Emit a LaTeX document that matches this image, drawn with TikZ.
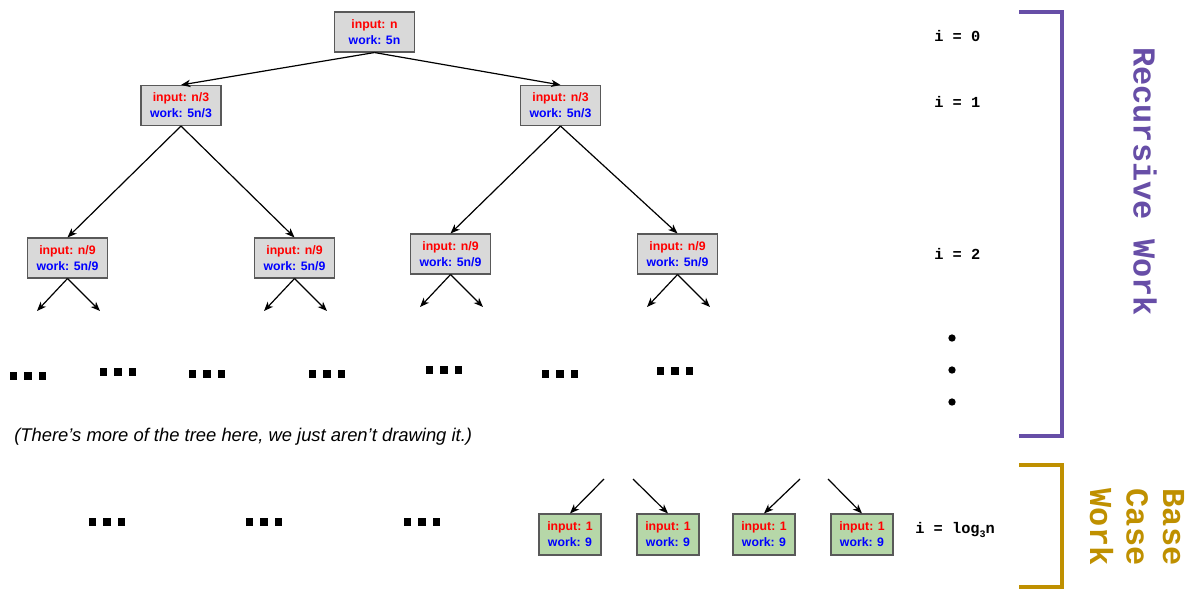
\documentclass[tikz,border=0pt]{standalone}
\usepackage{fontspec}
\setmainfont{Liberation Sans}
\newfontfamily\monof{Liberation Mono}
\usetikzlibrary{arrows.meta}
\definecolor{purp}{HTML}{674EA7}
\definecolor{gold}{HTML}{BF9000}
\definecolor{boxgrey}{HTML}{D9D9D9}
\definecolor{boxgreen}{HTML}{B6D7A8}
\definecolor{edgegrey}{HTML}{595959}
\newcommand\nd[2]{\textcolor{red}{input: #1}\\\textcolor{blue}{work: #2}}
\newcommand\sqdots{\rule{5.5pt}{5.5pt}\hspace{5.5pt}\rule{5.5pt}{5.5pt}\hspace{5.5pt}\rule{5.5pt}{5.5pt}}
\begin{document}
\begin{tikzpicture}[x=0.75pt,y=-0.75pt,
  tbox/.style={draw=edgegrey, line width=0.8pt, fill=boxgrey, minimum width=60pt, minimum height=30pt, inner sep=0pt, align=center, font=\fontsize{9.2}{12}\selectfont\bfseries},
  gbox/.style={tbox, fill=boxgreen, minimum width=46.5pt, minimum height=30.75pt},
  arr/.style={-{Stealth[length=7pt,width=5.5pt,inset=2pt]}, line width=0.9pt},
  dotrow/.style={inner sep=0pt},
  lvl/.style={anchor=west, inner sep=0pt, font=\monof\bfseries\fontsize{11.5}{14}\selectfont},
  vdot/.style={circle, fill=black, inner sep=0pt, minimum size=5.5pt}
]
\useasboundingbox (0,0) rectangle (1195,590);
% tree nodes
\node[tbox] (r) at (374.5,32) {\nd{n}{5n}};
\node[tbox] (a) at (181,105.5) {\nd{n/3}{5n/3}};
\node[tbox] (b) at (560.5,105.5) {\nd{n/3}{5n/3}};
\node[tbox] (a1) at (67.5,258) {\nd{n/9}{5n/9}};
\node[tbox] (a2) at (294.5,258) {\nd{n/9}{5n/9}};
\node[tbox] (b1) at (450.5,254) {\nd{n/9}{5n/9}};
\node[tbox] (b2) at (677.5,254) {\nd{n/9}{5n/9}};
\draw[arr] (r.south) -- (a.north);
\draw[arr] (r.south) -- (b.north);
\draw[arr] (a.south) -- (a1.north);
\draw[arr] (a.south) -- (a2.north);
\draw[arr] (b.south) -- (b1.north);
\draw[arr] (b.south) -- (b2.north);
% short stubs
\coordinate (a1l) at (37,311); \coordinate (a1r) at (100,311);
\coordinate (a2l) at (264,311); \coordinate (a2r) at (327,311);
\coordinate (b1l) at (420,307); \coordinate (b1r) at (483,307);
\coordinate (b2l) at (647,307); \coordinate (b2r) at (710,307);
\foreach \n in {a1,a2,b1,b2}{
  \draw[arr] (\n.south) -- (\n l);
  \draw[arr] (\n.south) -- (\n r);
}
% dot rows
\node[dotrow] (d1) at (28,376) {\sqdots};
\node[dotrow] (d2) at (118,372) {\sqdots};
\node[dotrow] (d3) at (207,374) {\sqdots};
\node[dotrow] (d4) at (327,374) {\sqdots};
\node[dotrow] (d5) at (444,370) {\sqdots};
\node[dotrow] (d6) at (560,374) {\sqdots};
\node[dotrow] (d7) at (675,371) {\sqdots};
\node[anchor=west, inner sep=0pt, font=\fontsize{13.8}{16}\selectfont\itshape] (note) at (14,437) {(There’s more of the tree here, we just aren’t drawing it.)};
\node[dotrow] (e1) at (107,522) {\sqdots};
\node[dotrow] (e2) at (264,522) {\sqdots};
\node[dotrow] (e3) at (422,522) {\sqdots};
% base case
\node[gbox] (g1) at (570,534.5) {\nd{1}{9}};
\node[gbox] (g2) at (668,534.5) {\nd{1}{9}};
\node[gbox] (g3) at (764,534.5) {\nd{1}{9}};
\node[gbox] (g4) at (862,534.5) {\nd{1}{9}};
\coordinate (s1) at (604,479); \coordinate (s2) at (633,479);
\coordinate (s3) at (800,479); \coordinate (s4) at (828,479);
\draw[arr] (s1) -- (g1.north);
\draw[arr] (s2) -- (g2.north);
\draw[arr] (s3) -- (g3.north);
\draw[arr] (s4) -- (g4.north);
% levels
\node[lvl] (l0) at (934,36) {i = 0};
\node[lvl] (l1) at (934,102) {i = 1};
\node[lvl] (l2) at (934,254) {i = 2};
\node[vdot] (v1) at (952,338) {};
\node[vdot] (v2) at (952,370) {};
\node[vdot] (v3) at (952,402) {};
\node[lvl] (ll) at (915,530) {i = log\raisebox{-0.45ex}{\fontsize{7.5}{8}\selectfont 3}n};
% brackets
\draw[purp, line width=3pt] (1019,12) -- (1062,12) -- (1062,436) -- (1019,436);
\draw[gold, line width=3pt] (1019,465) -- (1062,465) -- (1062,587) -- (1019,587);
\node[rotate=-90, text=purp, font=\monof\bfseries\fontsize{24}{28}\selectfont, inner sep=0pt] (rw) at (1145,181.5) {Recursive Work};
\node[rotate=-90, text=gold, align=left, font=\monof\bfseries\fontsize{24}{27.4}\selectfont, inner sep=0pt] (bw) at (1137,527) {Base\\Case\\Work};
\end{tikzpicture}
\end{document}
